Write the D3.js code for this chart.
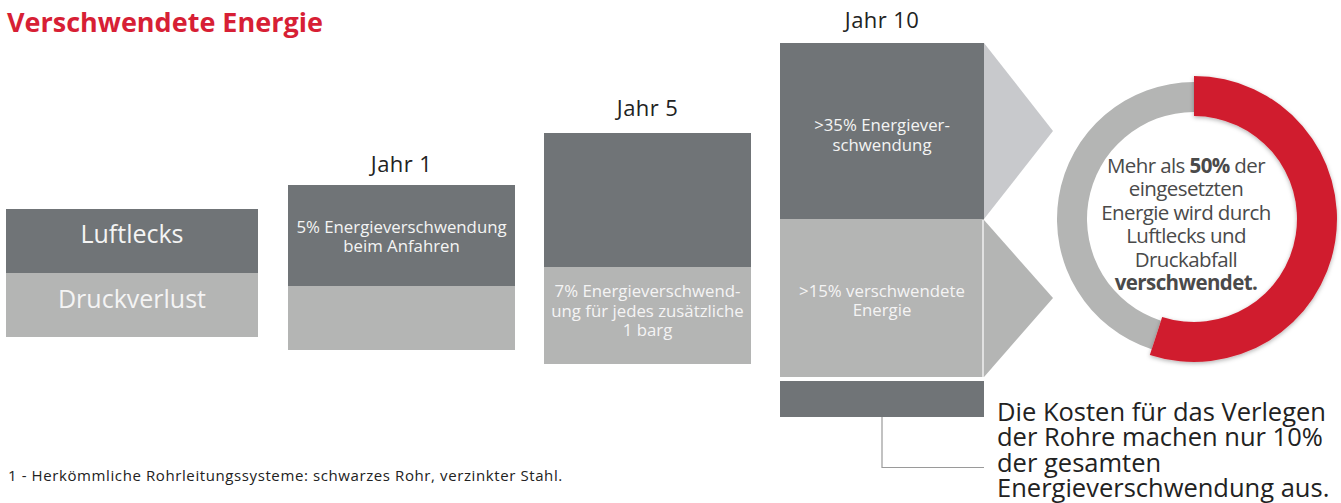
<!DOCTYPE html>
<html>
<head>
<meta charset="utf-8">
<script src="https://cdn.jsdelivr.net/npm/d3@7"></script>
<style>
  body { margin: 0; background: #fff; }
  text { font-family: "Open Sans", sans-serif; }
</style>
</head>
<body>
<div id="chart"></div>
<script>
// data
var columns = ["Legende", "Jahr 1", "Jahr 5", "Jahr 10"];
var leakValues = [64, 101, 134, 176];      // Luftlecks (dunkel)
var pressureValues = [64, 64, 97, 158];   // Druckverlust (hell)
var leakLabels = [["Luftlecks"], ["5% Energieverschwendung", "beim Anfahren"], [], [">35% Energiever-", "schwendung"]];
var pressureLabels = [["Druckverlust"], [], ["7% Energieverschwend-", "ung für jedes zusätzliche", "1 barg"], [">15% verschwendete", "Energie"]];
var donutValues = [55, 45];   // verschwendet, Rest
// parts alternate normal / bold
var donutLines = [["Mehr als ", "50%", " der"], ["eingesetzten"], ["Energie wird durch"], ["Luftlecks und"], ["Druckabfall"], ["", "verschwendet."]];
var noteLines = ["Die Kosten für das Verlegen", "der Rohre machen nur 10%", "der gesamten", "Energieverschwendung aus."];
var footnote = "1 - Herkömmliche Rohrleitungssysteme: schwarzes Rohr, verzinkter Stahl.";

const W = 1341, H = 503;
const colors = { dark: "#707477", light: "#b4b5b4", red: "#d01f2f", title: "#d71f35", arrowTop: "#c8c9cc", arrowBottom: "#b4b5b4" };

// layout of the columns
const colX = [6, 288, 544, 780];
const colW = [252, 227, 207, 204];
const baseY = [337, 350, 364, 377];
const labelGap = [0, 13, 17, 15];
// first baseline of the text inside the blocks, from the block top
const leakTextTop = [34, 48, 0, 88];
const pressureTextTop = [35, 0, 30, 78];

var svg = d3.select("#chart").append("svg")
    .attr("width", W)
    .attr("height", H);

var h = d3.scaleLinear().domain([0, 100]).range([0, 100]);

svg.append("text")
    .attr("x", 7).attr("y", 32)
    .attr("fill", colors.title)
    .style("font-size", "27px").style("font-weight", 700)
    .text("Verschwendete Energie");

var cols = svg.selectAll("g.col").data(columns).enter().append("g").attr("class", "col");

// hell unten
cols.append("rect")
    .attr("x", (d, i) => colX[i])
    .attr("width", (d, i) => colW[i])
    .attr("y", (d, i) => baseY[i] - h(pressureValues[i]))
    .attr("height", (d, i) => h(pressureValues[i]))
    .attr("fill", colors.light);
// dunkel oben
cols.append("rect")
    .attr("x", (d, i) => colX[i])
    .attr("width", (d, i) => colW[i])
    .attr("y", (d, i) => baseY[i] - h(pressureValues[i]) - h(leakValues[i]))
    .attr("height", (d, i) => h(leakValues[i]))
    .attr("fill", colors.dark);

// Jahr labels
cols.filter((d, i) => i > 0).append("text")
    .attr("x", (d, i) => colX[i + 1] + colW[i + 1] / 2)
    .attr("y", (d, i) => baseY[i + 1] - h(pressureValues[i + 1]) - h(leakValues[i + 1]) - labelGap[i + 1])
    .attr("text-anchor", "middle")
    .attr("fill", "#222")
    .style("font-size", "22px")
    .style("letter-spacing", "0.4px")
    .text(d => d);

// multi-line text as one element with tspans
function multiText(sel, lines, x, y0, lh) {
    var t = sel.append("text").attr("x", x).attr("y", y0);
    lines.forEach((l, j) => {
        t.append("tspan").attr("x", x).attr("dy", j == 0 ? 0 : lh).text(l);
    });
    return t;
}
columns.forEach((c, i) => {
    var g = svg.append("g")
        .attr("text-anchor", "middle")
        .attr("fill", "#f4f4f4")
        .style("font-size", (i == 0 ? 25 : 16.8) + "px");
    var cxCol = colX[i] + colW[i] / 2;
    var pTop = baseY[i] - h(pressureValues[i]);
    var lTop = pTop - h(leakValues[i]);
    if (leakLabels[i].length) multiText(g, leakLabels[i], cxCol, lTop + leakTextTop[i], i == 3 ? 20 : 19);
    if (pressureLabels[i].length) multiText(g, pressureLabels[i], cxCol, pTop + pressureTextTop[i], i == 3 ? 18.5 : 19.5);
});

// white separator & arrows at Jahr 10
var x10 = colX[3] + colW[3];
var top10 = baseY[3] - h(pressureValues[3]) - h(leakValues[3]);
var mid10 = baseY[3] - h(pressureValues[3]);
svg.append("path")
    .attr("d", d3.line()([[x10, top10], [x10 + 69, (top10 + mid10) / 2], [x10, mid10]]))
    .attr("fill", colors.arrowTop);
svg.append("path")
    .attr("d", d3.line()([[x10, mid10 + 1], [x10 + 69, (mid10 + baseY[3]) / 2], [x10, baseY[3]]]))
    .attr("fill", colors.arrowBottom);
svg.append("line")
    .attr("x1", x10 - 1).attr("x2", x10 - 1)
    .attr("y1", mid10 + 1).attr("y2", baseY[3])
    .attr("stroke", "#fff").attr("stroke-width", 1.2);

// small bar: Verlegekosten
svg.append("rect")
    .attr("x", colX[3]).attr("width", colW[3])
    .attr("y", baseY[3] + 4).attr("height", 36)
    .attr("fill", colors.dark);
svg.append("path")
    .attr("d", d3.line()([[colX[3] + 102, baseY[3] + 40], [colX[3] + 102, 467.5], [x10, 467.5]]))
    .attr("fill", "none")
    .attr("stroke", "#9a9a9a")
    .attr("stroke-width", 1.2);

multiText(svg, noteLines, 997, 421, 25.3)
    .attr("fill", "#222")
    .style("font-size", "25.5px");

// donut
var defs = svg.append("defs");
var f = defs.append("filter").attr("id", "shadow").attr("x", "-20%").attr("y", "-20%").attr("width", "140%").attr("height", "140%");
f.append("feDropShadow").attr("dx", 0).attr("dy", 1.5).attr("stdDeviation", 2).attr("flood-color", "#000").attr("flood-opacity", 0.3);

var cx = 1194, cy = 219;
var pie = d3.pie().sort(null).value(d => d);
var arcs = pie(donutValues);
var dg = svg.append("g").attr("transform", "translate(" + cx + "," + cy + ")");
dg.append("path")
    .attr("d", d3.arc().innerRadius(107).outerRadius(137)(arcs[1]))
    .attr("fill", colors.light);
dg.append("path")
    .attr("d", d3.arc().innerRadius(103).outerRadius(143)(arcs[0]))
    .attr("fill", colors.red)
    .attr("filter", "url(#shadow)");

var dt = dg.append("text")
    .attr("y", -46)
    .attr("text-anchor", "middle")
    .attr("fill", "#4a4a4a")
    .style("font-size", "20.5px")
    .style("letter-spacing", "-0.6px");
donutLines.forEach((parts, j) => {
    var first = true;
    parts.forEach((p, k) => {
        if (!p) return;
        var ts = dt.append("tspan").style("font-weight", k % 2 == 1 ? 700 : 400).text(p);
        if (first) ts.attr("x", -8).attr("dy", j == 0 ? 0 : 23.4);
        first = false;
    });
});

svg.append("text")
    .attr("x", 8).attr("y", 481)
    .attr("fill", "#222")
    .style("font-size", "15px")
    .style("letter-spacing", "0.6px")
    .text(footnote);
</script>
</body>
</html>
